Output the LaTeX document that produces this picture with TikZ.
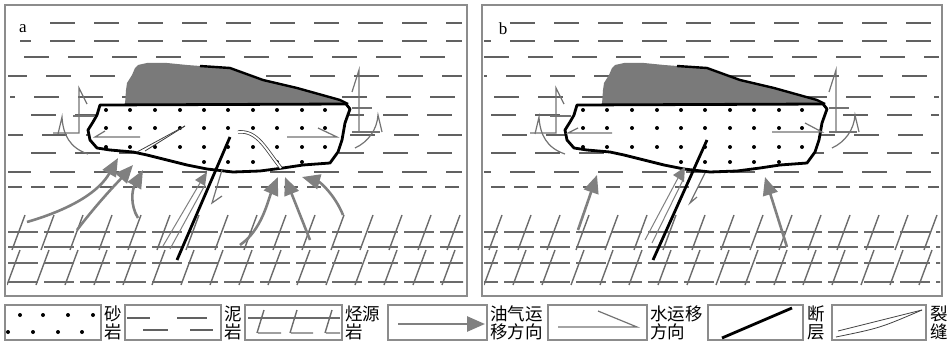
\documentclass[tikz,border=0pt]{standalone}
\usepackage{fontspec}
\setmainfont{Liberation Serif}
\newfontfamily\cjk{Noto Sans CJK SC}
\usetikzlibrary{arrows.meta}
\tikzset{
  frame/.style={draw=black!45, line width=2.6pt},
  mud/.style={draw=black!62, line width=1.6pt, dash pattern=on 25pt off 19pt},
  src/.style={draw=black!58, line width=1.4pt},
  oilgas/.style={draw=black!50, line width=2.6pt, -{Triangle[length=18pt,width=15pt]}},
  thinmig/.style={draw=black!50, line width=1pt},
  water/.style={draw=black!55, line width=1.2pt},
  fault/.style={draw=black, line width=2.8pt},
  frac/.style={draw=black!75, line width=0.8pt},
  legbox/.style={draw=black!45, line width=1.5pt},
  legtext/.style={font=\cjk\fontsize{17.5}{18}\selectfont, align=left, anchor=west, inner sep=0pt},
  tag/.style={font=\fontsize{17}{17}\selectfont, inner sep=0pt}
}
\newcommand\sandbody{(100,105) -- (346,104) -- (350,109) -- (345,123) -- (342,140) -- (338,152) -- (330,163) -- (303,165) -- (283,168) -- (260,171) -- (233,172) -- (207,169) -- (187,165) -- (167,160) -- (147,155) -- (133,152) -- (110,150) -- (97,148) -- (90,140) -- (88,130) -- (93,122) -- (97,115) -- cycle}
\newcommand\gascap{(125,104) -- (126,90) -- (127,83) -- (132,75) -- (135,68) -- (138,65) -- (147,63) -- (167,63) -- (187,65) -- (200,66) -- (230,68) -- (263,80) -- (297,88) -- (340,100) -- (348,104) -- cycle}
\newcommand\panelbase[1]{%
  \begin{scope}
    \clip (7,7) rectangle (463,294);
    \foreach \y/\ph/\xs in {23/0/50, 41/14/20, 57/30/10, 76/6/8, 97/20/10, 115/38/25, 135/10/8, 153/28/15, 172/2/8}
      \draw[mud, dash phase=\ph pt] (\xs-#1,\y) -- (462,\y);
    \draw[mud, dash pattern=on 14pt off 9pt] (8-#1,187) -- (462,187);
    \foreach \y in {232,247,263,282}
      \draw[src, dash pattern=on 30pt off 6pt] (8-#1,\y) -- (464,\y);
    \foreach \x in {12,41,...,460} {
      \draw[src] (\x,250) -- (\x+13,215);
      \draw[src] (\x-5,285) -- (\x+8,250);
    }
  \end{scope}
  \fill[white] \sandbody;
  \fill[black!52] \gascap;
  \foreach \y in {110,128,147}
    \foreach \x in {106,130,155,180,204,228,253,277,302,325}
      \fill (\x,\y) circle[radius=2pt];
  \foreach \x in {204,228,253,277,302}
    \fill (\x,162) circle[radius=2pt];
  \draw[line width=2.4pt, line join=round] (200,66) -- (230,68) -- (263,80) -- (297,88) -- (340,100) -- (348,104);
  \draw[line width=2.8pt, line join=round] \sandbody;
  \draw[water] (53,133) -- (79,133) -- (79,88) -- (87,104);
  \draw[water] (73,116) -- (94,116);
  \draw[water] (88,154) .. controls (70,148) and (63,135) .. (62,117) -- (58,134);
  \draw[water] (352,92) -- (359,70) -- (359,132);
  \draw[water] (352,132) -- (380,132);
  \draw[water] (352,108) -- (372,108);
  \draw[water] (355,148) .. controls (368,142) and (377,130) .. (378,115) -- (382,132);
}

\begin{document}
\begin{tikzpicture}[x=1pt,y=-1pt]
\useasboundingbox (0,0) rectangle (951,345);

\begin{scope}
  \panelbase{0}
  \draw[fault] (177,260) -- (230,137);
  \draw[thinmig] (163,246) -- (200,183);
  \draw[thinmig] (170,249) -- (205,185);
  \fill[black!50] (207,172) -- (195,180) -- (205,186) -- cycle;
  \draw[water] (222,170) -- (212,203) -- (222,196);
  \draw[frac] (137,152) -- (185,126);
  \draw[frac] (145,151) -- (185,126);
  \draw[frac, double=white, double distance=1.8pt] (238,132) .. controls (258,130) and (266,150) .. (281,168);
  \draw[water] (140,137) -- (95,137) -- (105,131);
  \draw[water] (287,137) -- (337,137) -- (318,128);
  \draw[oilgas] (27,222) .. controls (75,208) and (100,190) .. (118,158);
  \draw[oilgas] (77,230) .. controls (100,200) and (118,182) .. (133,165);
  \draw[oilgas] (138,218) .. controls (130,205) and (132,190) .. (143,170);
  \draw[oilgas] (240,245) .. controls (262,230) and (268,200) .. (278,177);
  \draw[oilgas] (310,240) -- (285,177);
  \draw[oilgas] (343,215) .. controls (335,195) and (320,182) .. (302,177);
  \node[tag] (taga) at (23,29) {a};
\end{scope}

\begin{scope}[shift={(477,0)}]
  \panelbase{17}
  \draw[fault] (176,260) -- (230,140);
  \draw[thinmig] (168,240) -- (201,178);
  \draw[thinmig] (175,243) -- (206,180);
  \fill[black!50] (208,167) -- (196,175) -- (207,182) -- cycle;
  \draw[water] (228,173) -- (213,203) -- (220,197);
  \draw[water] (135,133) -- (91,133) -- (101,128);
  \draw[water] (295,132) -- (345,132) -- (328,123);
  \draw[oilgas] (101,230) -- (120,175);
  \draw[oilgas] (310,247) -- (288,177);
  \node[tag] (tagb) at (26,29) {b};
\end{scope}

\draw[frame] (5,5) rectangle (467,296);
\draw[frame] (482,5) rectangle (942,296);

\draw[legbox] (5,305) rectangle (101,340);
\foreach \x/\y in {20/315,43/315,68/315,93/315,8/332,33/332,58/332,82/332}
  \fill (\x,\y) circle[radius=2pt];
\node[legtext] (tsand) at (104,323) {砂\\岩};

\draw[legbox] (125,305) rectangle (221,340);
\draw[mud, dash pattern=] (127,318) -- (150,318) (177,318) -- (207,318) (143,330) -- (168,330) (190,330) -- (213,330);
\node[legtext] (tmud) at (224,323) {泥\\岩};

\draw[legbox] (245,305) rectangle (342,340);
\draw[src] (248,318) -- (340,318);
\draw[src] (258,333) -- (281,333) (257,333) -- (264,310);
\draw[src] (291,333) -- (313,333) (290,333) -- (297,310);
\draw[src] (326,333) -- (340,333) (325,333) -- (332,310);
\node[legtext] (tsrc) at (345,323) {烃源\\岩};

\draw[legbox] (388,305) rectangle (487,340);
\draw[oilgas] (398,324) -- (485,324);
\node[legtext] (toil) at (490,323) {油气运\\移方向};

\draw[legbox] (548,305) rectangle (647,340);
\draw[water] (558,327) -- (637,327) -- (598,311);
\node[legtext] (twater) at (650,323) {水运移\\方向};

\draw[legbox] (708,305) rectangle (803,340);
\draw[fault] (722,338) -- (792,308);
\node[legtext] (tfault) at (807,323) {断\\层};

\draw[legbox] (832,305) rectangle (926,340);
\draw[frac] (836,337) .. controls (880,328) .. (922,310);
\draw[frac] (838,331) .. controls (870,323) .. (922,310);
\node[legtext] (tfrac) at (930,323) {裂\\缝};
\end{tikzpicture}
\end{document}
